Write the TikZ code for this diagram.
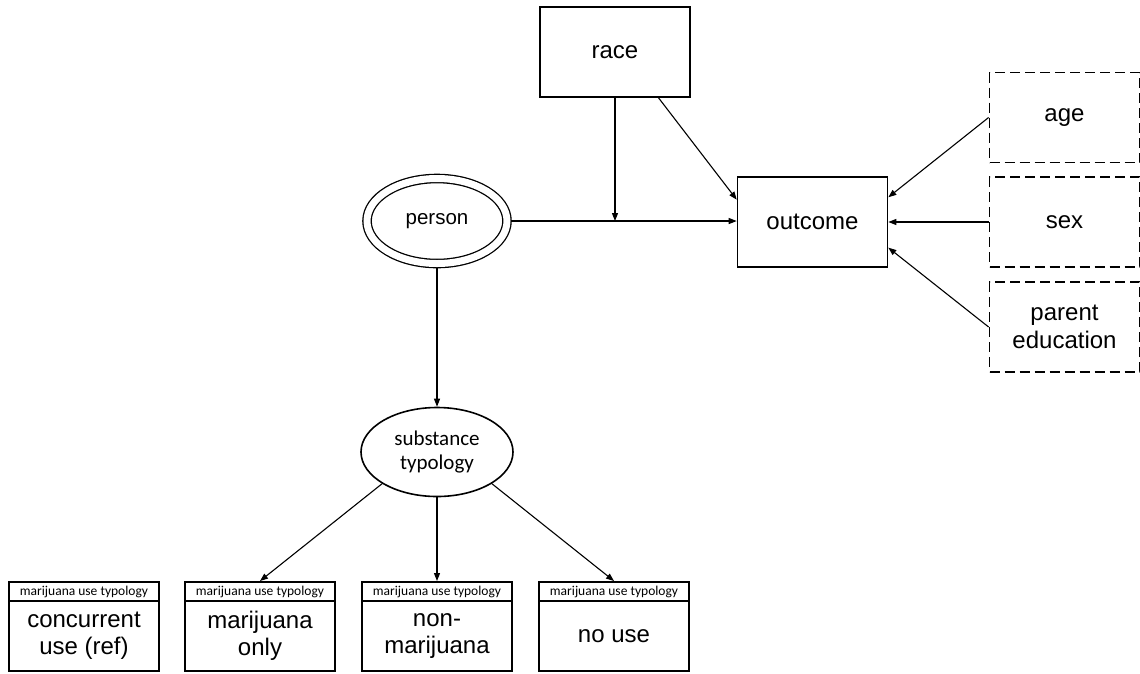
\documentclass[tikz,border=0pt]{standalone}
\usepackage{fontspec}
\setmainfont{Liberation Sans}
\newfontfamily\calfont{Carlito}
\usetikzlibrary{arrows.meta,calc,shapes.geometric}
\begin{document}
\begin{tikzpicture}[x=1pt, y=-1pt,
  arr/.style={-{Triangle[length=8pt,width=6pt]}, line width=1.1pt},
  var/.style={draw, line width=1.6pt, minimum width=150pt, minimum height=90pt,
    inner sep=0pt, align=center, font=\fontsize{24}{28}\selectfont},
  covar/.style={var, dash pattern=on 10pt off 5pt, line width=1.8pt},
  cat/.style={draw, line width=2pt, minimum width=150pt, minimum height=70pt,
    inner sep=0pt, align=center, font=\fontsize{24}{27}\selectfont},
  cathead/.style={draw, line width=2pt, minimum width=150pt, minimum height=19pt,
    inner sep=0pt, font=\calfont\fontsize{13.5}{15}\selectfont},
  latent/.style={draw, ellipse, line width=1.6pt, inner sep=0pt, align=center}]
\useasboundingbox (0,0) rectangle (1140,673);
\node[var] (race) at (615,52) {race};
\node[var] (outcome) at (812.5,222) {outcome};
\node[latent, double, double distance=7pt, line width=1.3pt,
  minimum width=140pt, minimum height=85pt, outer sep=4.8pt,
  font=\fontsize{20.5}{24}\selectfont] (person) at (437,221) {person};
\node[latent, minimum width=152pt, minimum height=89pt,
  font=\calfont\fontsize{21}{24}\selectfont] (subst) at (437,452) {substance\\typology};
\foreach \name/\y/\txt in {age/117.5/age, sex/222/sex, parent/327/{parent\\education}}{
  \node[covar] (\name) at (1064.5,\y) {\txt};
}
\foreach \name/\x/\txt in {conc/84/{concurrent\\use (ref)}, mjonly/260/{marijuana\\only},
    nonmj/437/{non-\\marijuana}, nouse/614/{no use}}{
  \node[cat] (\name) at (\x,636) {\txt};
  \node[cathead] (h\name) at (\x,591.5) {marijuana use typology};
}
\coordinate (join) at (race.south |- person.east);
\draw[arr] (person.east) -- (outcome.west |- person.east);
\draw[arr] (race.south) -- (join);
\draw[arr] ($(race.south west)!0.787!(race.south east)$)
  -- ($(outcome.north west)!0.256!(outcome.south west)$);
\draw[arr] (age.west) -- ($(outcome.north east)!0.23!(outcome.south east)$);
\draw[arr] (sex.west) -- (outcome.east |- sex.west);
\draw[arr] (parent.west) -- ($(outcome.north east)!0.78!(outcome.south east)$);
\draw[arr] (person.south) -- (subst.north);
\draw[arr] (subst.210) -- (hmjonly.north);
\draw[arr] (subst.south) -- (hnonmj.north);
\draw[arr] (subst.330) -- (hnouse.north);
\end{tikzpicture}
\end{document}
